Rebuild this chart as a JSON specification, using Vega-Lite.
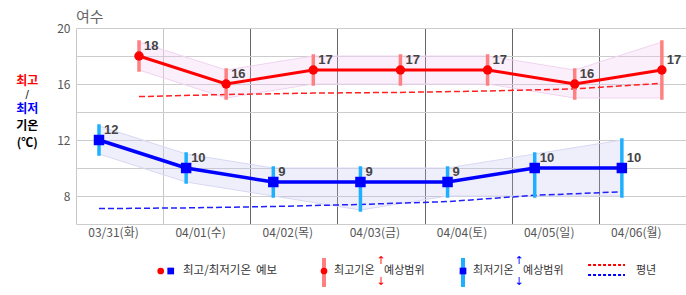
{
  "$schema": "https://vega.github.io/schema/vega-lite/v6.json",
  "width": 610,
  "height": 196,
  "autosize": {"type": "none"},
  "padding": {"left": 76, "top": 28, "right": 0, "bottom": 71},
  "background": "white",
  "config": {"view": {"stroke": null}, "font": "Noto Sans CJK KR"},
  "title": {"text": "여수", "anchor": "start", "frame": "group", "fontSize": 15, "fontWeight": "normal", "color": "#666666", "offset": -3, "font": "Noto Sans CJK KR"},
  "datasets": {
    "fc": [
      {"day": 0, "date": "03/31(화)", "max": 18, "maxLo": 17, "maxHi": 19, "min": 12, "minLo": 11, "minHi": 13, "maxNorm": 15.1, "minNorm": 7.1},
      {"day": 1, "date": "04/01(수)", "max": 16, "maxLo": 15, "maxHi": 17, "min": 10, "minLo": 9, "minHi": 11, "maxNorm": 15.25, "minNorm": 7.15},
      {"day": 2, "date": "04/02(목)", "max": 17, "maxLo": 16, "maxHi": 18, "min": 9, "minLo": 8, "minHi": 10, "maxNorm": 15.35, "minNorm": 7.25},
      {"day": 3, "date": "04/03(금)", "max": 17, "maxLo": 16, "maxHi": 18, "min": 9, "minLo": 7, "minHi": 10, "maxNorm": 15.4, "minNorm": 7.4},
      {"day": 4, "date": "04/04(토)", "max": 17, "maxLo": 16, "maxHi": 18, "min": 9, "minLo": 8, "minHi": 10, "maxNorm": 15.5, "minNorm": 7.6},
      {"day": 5, "date": "04/05(일)", "max": 16, "maxLo": 15, "maxHi": 17, "min": 10, "minLo": 8, "minHi": 11, "maxNorm": 15.65, "minNorm": 8.05},
      {"day": 6, "date": "04/06(월)", "max": 17, "maxLo": 15, "maxHi": 19, "min": 10, "minLo": 8, "minHi": 12, "maxNorm": 16.05, "minNorm": 8.3}
    ]
  },
  "data": {"name": "fc"},
  "resolve": {"axis": {"y": "independent"}},
  "layer": [
    {
      "mark": {"type": "area", "fill": "#f0c0f0", "fillOpacity": 0.25, "stroke": "#f0d4f0", "strokeWidth": 1, "xOffset": 63},
      "encoding": {
        "x": {"field": "day", "type": "quantitative", "scale": {"domain": [0, 7], "nice": false, "zero": false},
          "axis": {"values": [0, 1, 2, 3, 4, 5, 6, 7],
            "labelExpr": "datum.value < 7 ? ['03/31(화)','04/01(수)','04/02(목)','04/03(금)','04/04(토)','04/05(일)','04/06(월)'][datum.value] : ''",
            "labelOffset": 37, "grid": true,
            "gridColor": {"condition": {"test": "datum.value <= 1", "value": "#c8c8c8"}, "value": "#666666"},
            "domain": false, "ticks": false, "labelPadding": 3, "labelFontSize": 12, "labelColor": "#555555", "title": null, "labelFlush": false, "labelOverlap": false, "labelFont": "Noto Sans CJK KR"}},
        "y": {"field": "maxLo", "type": "quantitative", "scale": {"domain": [6, 20], "nice": false, "zero": false},
          "axis": {"orient": "left", "values": [8, 12, 16, 20],
            "grid": true, "gridColor": "#cccccc", "domain": false, "ticks": false, "labelPadding": 6, "labelFontSize": 12, "labelColor": "#555555", "title": null, "labelOverlap": false, "labelFlush": false, "labelFont": "Noto Sans CJK KR"}},
        "y2": {"field": "maxHi"}
      }
    },
    {
      "mark": {"type": "area", "fill": "#c0c0f0", "fillOpacity": 0.25, "stroke": "#d8d8f4", "strokeWidth": 1, "xOffset": 23},
      "encoding": {
        "x": {"field": "day", "type": "quantitative"},
        "y": {"field": "minLo", "type": "quantitative",
          "axis": {"orient": "right", "values": [6, 10, 14, 18], "grid": true, "gridColor": "#cccccc", "labels": false, "domain": false, "ticks": false, "title": null}},
        "y2": {"field": "minHi"}
      }
    },
    {
      "mark": {"type": "line", "color": "#ff2020", "strokeWidth": 1.5, "strokeDash": [6, 3], "xOffset": 63},
      "encoding": {"x": {"field": "day", "type": "quantitative"}, "y": {"field": "maxNorm", "type": "quantitative", "axis": null}}
    },
    {
      "mark": {"type": "line", "color": "#2020ff", "strokeWidth": 1.5, "strokeDash": [6, 3], "xOffset": 23},
      "encoding": {"x": {"field": "day", "type": "quantitative"}, "y": {"field": "minNorm", "type": "quantitative", "axis": null}}
    },
    {
      "mark": {"type": "rule", "color": "#ff8080", "strokeWidth": 3.5, "strokeCap": "square", "xOffset": 63},
      "encoding": {"x": {"field": "day", "type": "quantitative"}, "y": {"field": "maxLo", "type": "quantitative", "axis": null}, "y2": {"field": "maxHi"}}
    },
    {
      "mark": {"type": "rule", "color": "#1eb0ff", "strokeWidth": 3.5, "strokeCap": "square", "xOffset": 23},
      "encoding": {"x": {"field": "day", "type": "quantitative"}, "y": {"field": "minLo", "type": "quantitative", "axis": null}, "y2": {"field": "minHi"}}
    },
    {
      "mark": {"type": "line", "color": "#ff0000", "strokeWidth": 3, "xOffset": 63},
      "encoding": {"x": {"field": "day", "type": "quantitative"}, "y": {"field": "max", "type": "quantitative", "axis": null}}
    },
    {
      "mark": {"type": "line", "color": "#0000ff", "strokeWidth": 3.5, "xOffset": 23},
      "encoding": {"x": {"field": "day", "type": "quantitative"}, "y": {"field": "min", "type": "quantitative", "axis": null}}
    },
    {
      "mark": {"type": "point", "shape": "circle", "filled": true, "size": 90, "color": "#ff0000", "opacity": 1, "xOffset": 63},
      "encoding": {"x": {"field": "day", "type": "quantitative"}, "y": {"field": "max", "type": "quantitative", "axis": null}}
    },
    {
      "mark": {"type": "point", "shape": "square", "filled": true, "size": 110, "color": "#0000ff", "opacity": 1, "xOffset": 23},
      "encoding": {"x": {"field": "day", "type": "quantitative"}, "y": {"field": "min", "type": "quantitative", "axis": null}}
    },
    {
      "mark": {"type": "text", "align": "left", "baseline": "middle", "font": "Liberation Sans", "fontWeight": "bold", "fontSize": 13, "color": "#444444", "xOffset": 63, "dx": 5, "dy": -10},
      "encoding": {"x": {"field": "day", "type": "quantitative"}, "y": {"field": "max", "type": "quantitative", "axis": null}, "text": {"field": "max"}}
    },
    {
      "mark": {"type": "text", "align": "left", "baseline": "middle", "font": "Liberation Sans", "fontWeight": "bold", "fontSize": 13, "color": "#444444", "xOffset": 23, "dx": 5, "dy": -10},
      "encoding": {"x": {"field": "day", "type": "quantitative"}, "y": {"field": "min", "type": "quantitative", "axis": null}, "text": {"field": "min"}}
    },
    {
      "data": {"values": [{}]},
      "mark": {"type": "text", "text": "최고", "font": "Noto Sans CJK KR", "fontWeight": "bold", "fontSize": 12, "color": "#ff0000", "align": "center", "baseline": "middle"},
      "encoding": {"x": {"datum": -0.56}, "y": {"datum": 16.214, "axis": null}}
    },
    {
      "data": {"values": [{}]},
      "mark": {"type": "text", "text": "/", "font": "DejaVu Sans", "fontSize": 10, "color": "#000000", "align": "center", "baseline": "middle"},
      "encoding": {"x": {"datum": -0.56}, "y": {"datum": 15.214, "axis": null}}
    },
    {
      "data": {"values": [{}]},
      "mark": {"type": "text", "text": "최저", "font": "Noto Sans CJK KR", "fontWeight": "bold", "fontSize": 12, "color": "#0000ff", "align": "center", "baseline": "middle"},
      "encoding": {"x": {"datum": -0.56}, "y": {"datum": 14.214, "axis": null}}
    },
    {
      "data": {"values": [{}]},
      "mark": {"type": "text", "text": "기온", "font": "Noto Sans CJK KR", "fontWeight": "bold", "fontSize": 12, "color": "#000000", "align": "center", "baseline": "middle"},
      "encoding": {"x": {"datum": -0.56}, "y": {"datum": 13.0, "axis": null}}
    },
    {
      "data": {"values": [{}]},
      "mark": {"type": "text", "text": "(℃)", "font": "Noto Sans CJK KR", "fontWeight": "bold", "fontSize": 12, "color": "#000000", "align": "center", "baseline": "middle"},
      "encoding": {"x": {"datum": -0.56}, "y": {"datum": 11.786, "axis": null}}
    },
    {
      "data": {"values": [{}]},
      "mark": {"type": "point", "shape": "circle", "filled": true, "size": 45, "color": "#ff0000", "opacity": 1},
      "encoding": {"x": {"datum": 0.972}, "y": {"datum": 2.643, "axis": null}}
    },
    {
      "data": {"values": [{}]},
      "mark": {"type": "point", "shape": "square", "filled": true, "size": 45, "color": "#0000ff", "opacity": 1},
      "encoding": {"x": {"datum": 1.087}, "y": {"datum": 2.643, "axis": null}}
    },
    {
      "data": {"values": [{}]},
      "mark": {"type": "text", "text": "최고/최저기온", "font": "Noto Sans CJK KR", "fontSize": 11.5, "color": "#333333", "align": "left", "baseline": "middle"},
      "encoding": {"x": {"datum": 1.228}, "y": {"datum": 2.643, "axis": null}}
    },
    {
      "data": {"values": [{}]},
      "mark": {"type": "text", "text": "예보", "font": "Noto Sans CJK KR", "fontSize": 11.5, "color": "#333333", "align": "left", "baseline": "middle"},
      "encoding": {"x": {"datum": 2.066}, "y": {"datum": 2.643, "axis": null}}
    },
    {
      "data": {"values": [{}]},
      "mark": {"type": "rule", "color": "#ff8080", "strokeWidth": 4},
      "encoding": {"x": {"datum": 2.846}, "y": {"datum": 3.571, "axis": null}, "y2": {"datum": 1.5}}
    },
    {
      "data": {"values": [{}]},
      "mark": {"type": "point", "shape": "circle", "filled": true, "size": 45, "color": "#ff0000", "opacity": 1},
      "encoding": {"x": {"datum": 2.846}, "y": {"datum": 2.643, "axis": null}}
    },
    {
      "data": {"values": [{}]},
      "mark": {"type": "text", "text": "최고기온", "font": "Noto Sans CJK KR", "fontSize": 11, "color": "#333333", "align": "left", "baseline": "middle"},
      "encoding": {"x": {"datum": 2.961}, "y": {"datum": 2.643, "axis": null}}
    },
    {
      "data": {"values": [{}]},
      "mark": {"type": "text", "text": "예상범위", "font": "Noto Sans CJK KR", "fontSize": 11, "color": "#333333", "align": "left", "baseline": "middle"},
      "encoding": {"x": {"datum": 3.535}, "y": {"datum": 2.643, "axis": null}}
    },
    {
      "data": {"values": [{}]},
      "mark": {"type": "text", "text": "↑", "font": "DejaVu Sans", "fontSize": 11, "color": "#ff0000", "align": "center", "baseline": "middle"},
      "encoding": {"x": {"datum": 3.5}, "y": {"datum": 3.357, "axis": null}}
    },
    {
      "data": {"values": [{}]},
      "mark": {"type": "text", "text": "↓", "font": "DejaVu Sans", "fontSize": 11, "color": "#ff0000", "align": "center", "baseline": "middle"},
      "encoding": {"x": {"datum": 3.5}, "y": {"datum": 1.857, "axis": null}}
    },
    {
      "data": {"values": [{}]},
      "mark": {"type": "rule", "color": "#1eb0ff", "strokeWidth": 4},
      "encoding": {"x": {"datum": 4.441}, "y": {"datum": 3.571, "axis": null}, "y2": {"datum": 1.5}}
    },
    {
      "data": {"values": [{}]},
      "mark": {"type": "point", "shape": "square", "filled": true, "size": 45, "color": "#0000ff", "opacity": 1},
      "encoding": {"x": {"datum": 4.441}, "y": {"datum": 2.643, "axis": null}}
    },
    {
      "data": {"values": [{}]},
      "mark": {"type": "text", "text": "최저기온", "font": "Noto Sans CJK KR", "fontSize": 11, "color": "#333333", "align": "left", "baseline": "middle"},
      "encoding": {"x": {"datum": 4.556}, "y": {"datum": 2.643, "axis": null}}
    },
    {
      "data": {"values": [{}]},
      "mark": {"type": "text", "text": "예상범위", "font": "Noto Sans CJK KR", "fontSize": 11, "color": "#333333", "align": "left", "baseline": "middle"},
      "encoding": {"x": {"datum": 5.13}, "y": {"datum": 2.643, "axis": null}}
    },
    {
      "data": {"values": [{}]},
      "mark": {"type": "text", "text": "↑", "font": "DejaVu Sans", "fontSize": 11, "color": "#0000ff", "align": "center", "baseline": "middle"},
      "encoding": {"x": {"datum": 5.084}, "y": {"datum": 3.357, "axis": null}}
    },
    {
      "data": {"values": [{}]},
      "mark": {"type": "text", "text": "↓", "font": "DejaVu Sans", "fontSize": 11, "color": "#0000ff", "align": "center", "baseline": "middle"},
      "encoding": {"x": {"datum": 5.084}, "y": {"datum": 1.857, "axis": null}}
    },
    {
      "data": {"values": [{}]},
      "mark": {"type": "rule", "color": "#ff0000", "strokeWidth": 2, "strokeDash": [3, 2]},
      "encoding": {"x": {"datum": 5.876}, "x2": {"datum": 6.3}, "y": {"datum": 3.071, "axis": null}}
    },
    {
      "data": {"values": [{}]},
      "mark": {"type": "rule", "color": "#0000ff", "strokeWidth": 2, "strokeDash": [3, 2]},
      "encoding": {"x": {"datum": 5.876}, "x2": {"datum": 6.3}, "y": {"datum": 2.357, "axis": null}}
    },
    {
      "data": {"values": [{}]},
      "mark": {"type": "text", "text": "평년", "font": "Noto Sans CJK KR", "fontSize": 11, "color": "#333333", "align": "left", "baseline": "middle"},
      "encoding": {"x": {"datum": 6.426}, "y": {"datum": 2.643, "axis": null}}
    }
  ]
}
